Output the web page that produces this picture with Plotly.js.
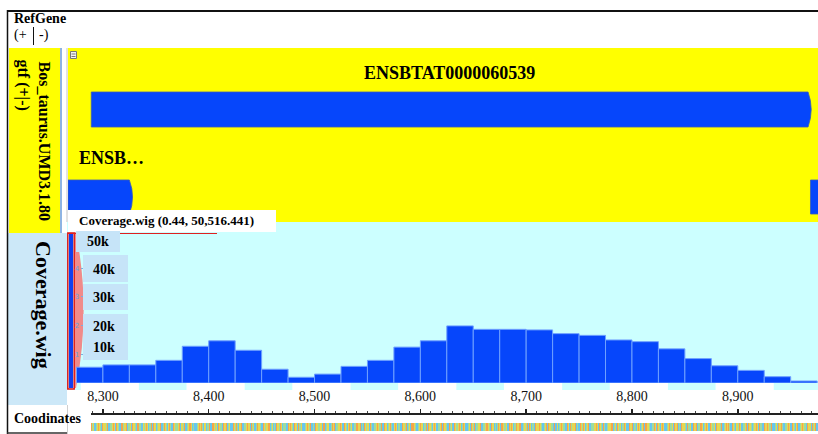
<!DOCTYPE html>
<html><head><meta charset="utf-8">
<script src="https://cdn.plot.ly/plotly-3.0.1.min.js"></script>
<style>html,body{margin:0;padding:0;background:#fff;overflow:hidden}#chart{width:818px;height:434px}</style>
</head><body><div id="chart"></div>
<script>
// ---------------- DATA ----------------
const binStarts = [8275,8300,8325,8350,8375,8400,8425,8450,8475,8500,8525,8550,8575,8600,8625,8650,8675,8700,8725,8750,8775,8800,8825,8850,8875,8900,8925,8950];
const binSize = 25;
const coverage = [5500,6300,6300,7900,12800,14700,11400,4800,2000,3100,5800,7900,12500,14700,19900,18700,18700,18500,17200,16600,15000,14400,11900,8500,6000,4400,2200,700];
const rulerTicks = [8300,8400,8500,8600,8700,8800,8900];
const rulerLabels = ['8,300','8,400','8,500','8,600','8,700','8,800','8,900'];
const yTickVals = [10000,20000,30000,40000];
const yTickText = ['1','2','3','4'];
const yScaleLabels = ['50k','40k','30k','20k','10k'];
const geneNames = ['ENSBTAT0000060539','ENSB\u2026',''];
const geneStarts = [8289, 8200, 8968.7];
const geneEnds = [8966.4, 8325, 9100];
const geneRows = [0, 1, 1];
const trackTitle = 'Coverage.wig (0.44, 50,516.441)';
const sequence = (
 'ATGCCTGAGT CAGGTACCTT GAGCAGTCCA TGGACTTGCA GGTCAATCCG ' +
 'TGAGCTTACA GGCTGACCTA GTCGATCCAG TTGACGGTAC CTGAAGCTCC ' +
 'TGAGATCGGC TTACCAGTGC AGTTCAGGAC TGCCAGTATC GGACCTTGAG ' +
 'CATGCCTAGG TCCAGTGAAC TGCTCAGGTA GCTTCCAGAG TCAGGCATTG ' +
 'CCTGAGTACC TCAGGTTGCA ACTGGCCTAG ACTTGAGCCA GTCGATGCCT ' +
 'TAGGACTCAG TGGCATCCTG AGTTACCAGG CTGATCGAGC TTCCAGGTAC ' +
 'TGCAAGTCCT GAGGCTTACA GTCGAGCCTT GACAGGTCAT GCCAGTTGAG ' +
 'CTAGCCTGCA GTACTTGGAC CTGAAGTCAG GCTCTAGCAG TTGCCAGAGC ' +
 'TTAGGACCTG GTACAGCTTC AGGAGTCCTG ACAGGTTCAC GCTGAGTTCC ' +
 'AGCATGGACT CCAGTAGCTG ACCTTGGAGC AGTCATCCTG GAACTGCAGT ' +
 'GCTTAGCCAG GACTTCGAGC TGACAGGTCC TTAGCAGTCG AGCCTGATTG ' +
 'CAGGACTCAG GTCATTGCCA GGACTTAGCT GAGCCAGTTG CAGGTACCTG ' +
 'AGATCCAGTC GTAGCCTTGA CAGGTCTGAG CATTCCAGGA GTTACCTGCA ' +
 'GGATCCTTGA GCAGTCGACC TGAGTTCAGG CATGACCTAG GTCAGCTTAC'
).replace(/\s/g,'');
const seqStart = 8289;

// ---------------- LAYOUT HELPERS ----------------
const PW = 818, PH = 434;
const px = v => v / PW;
const py = v => 1 - v / PH;
const SERIF = 'Liberation Serif, Times New Roman, serif';
const viewRange = [8267, 8975.8];
const rulerRange = [8288.74, 8975.8];
const BLUE = '#0646fb';

// ---------------- TRACES ----------------
const bars = {
  type: 'bar', xaxis: 'x', yaxis: 'y',
  x: binStarts.map(s => s + binSize / 2),
  y: coverage, width: binSize,
  marker: {color: BLUE, line: {color: '#6fa0ff', width: 1}},
  hoverinfo: 'skip'
};
const baseCode = {A: 0, C: 1, G: 2, T: 3};
const seqTrace = {
  type: 'heatmap', xaxis: 'x2', yaxis: 'y2',
  x: sequence.split('').map((b, i) => seqStart + i),
  y: [0],
  z: [sequence.split('').map(b => baseCode[b])],
  zmin: -0.5, zmax: 3.5, showscale: false, hoverinfo: 'skip',
  colorscale: [[0,'#f5a54a'],[0.25,'#f5a54a'],[0.25,'#66c6f0'],[0.5,'#66c6f0'],
               [0.5,'#e4d852'],[0.75,'#e4d852'],[0.75,'#9edc9e'],[1,'#9edc9e']]
};

// ---------------- SHAPES ----------------
const rect = (x0, y0, x1, y1, fill, layer, line) => ({
  type: 'rect', xref: 'paper', yref: 'paper', layer: layer || 'below',
  x0: px(x0), x1: px(x1), y0: py(y1), y1: py(y0),
  fillcolor: fill, line: line || {width: 0}
});
const pline = (x0, y0, x1, y1, color, w, layer) => ({
  type: 'line', xref: 'paper', yref: 'paper', layer: layer || 'below',
  x0: px(x0), x1: px(x1), y0: py(y0), y1: py(y1), line: {color: color, width: w}
});

const shapes = [];
// backgrounds
shapes.push(rect(9, 48, 60, 233, '#ffff00'));
shapes.push(pline(61, 48, 61, 233, '#8eb4e3', 2));
shapes.push(pline(67, 48, 67, 222, '#c4c4c4', 1));
shapes.push(rect(68, 48, 818, 222, '#ffff00'));
shapes.push(rect(8, 233, 67, 405, '#cce8f8'));
shapes.push(rect(67, 222, 818, 390, '#ccffff'));
// white label backings under ruler labels
rulerTicks.forEach(t => shapes.push({
  type: 'rect', xref: 'x', yref: 'paper', layer: 'below',
  x0: t - 21, x1: t + 34, y0: py(391), y1: py(383), fillcolor: '#ffffff', line: {width: 0}
}));
// left red summary strip (below axes so the small tick numbers sit on top)
shapes.push({type: 'path', xref: 'paper', yref: 'paper', layer: 'below',
  path: `M ${px(74.5)},${py(226)} Q ${px(92)},${py(305)} ${px(76)},${py(388)} L ${px(74.5)},${py(388)} Z`,
  fillcolor: '#f08a8a', line: {width: 0}});
shapes.push(rect(69, 233, 73, 388, '#1040f0'));
shapes.push(rect(67.8, 233, 74.2, 389, 'rgba(0,0,0,0)', 'below', {color: '#e01818', width: 1.5}));
// frame
shapes.push(pline(7, 11, 818, 11, '#111', 2));
shapes.push(pline(7.5, 10, 7.5, 434, '#111', 1.5));
shapes.push(pline(7, 433, 67, 433, '#333', 1.5));
shapes.push(pline(67.5, 405, 67.5, 434, '#cfcfcf', 1));
shapes.push(pline(33.5, 27, 33.5, 45, '#111', 1));

// genes
const rowBars = [[92, 127], [180, 214]];
geneNames.forEach((n, i) => {
  const [yt, yb] = rowBars[geneRows[i]];
  const x0 = Math.max(geneStarts[i], viewRange[0]);
  const x1 = Math.min(geneEnds[i], viewRange[1] + 5);
  const Y0 = py(yb), Y1 = py(yt), Ym = (Y0 + Y1) / 2;
  const tip = geneEnds[i] <= viewRange[1] ? 6 : 0;
  shapes.push({
    type: 'path', xref: 'x', yref: 'paper', layer: 'above',
    path: `M ${x0},${Y0} L ${x1},${Y0} Q ${x1 + tip},${Ym} ${x1},${Y1} L ${x0},${Y1} Z`,
    fillcolor: BLUE, line: {color: '#3a5cb8', width: 0.8}
  });
});
// collapse icon
shapes.push(rect(70.5, 51.5, 76.5, 58.5, '#f4f4f4', 'above', {color: '#777', width: 1}));
shapes.push(pline(71.5, 54, 75.5, 54, '#777', 1, 'above'));
shapes.push(pline(71.5, 56.5, 75.5, 56.5, '#777', 1, 'above'));
// title box
shapes.push(rect(68, 210, 276, 232, '#ffffff', 'above'));
shapes.push(pline(68, 233.5, 217, 233.5, '#e02020', 1, 'above'));
// y scale label boxes
const boxCol = '#c6e4f8';
shapes.push(rect(76, 231, 120, 252, boxCol, 'above'));
shapes.push(rect(83, 255, 128, 282, boxCol, 'above'));
shapes.push(rect(83, 284, 128, 310, boxCol, 'above'));
shapes.push(rect(83, 314, 128, 360, boxCol, 'above'));

// ---------------- ANNOTATIONS ----------------
const ann = (text, x, y, opts) => Object.assign({
  text: text, xref: 'paper', yref: 'paper', x: px(x), y: py(y),
  xanchor: 'left', yanchor: 'middle', showarrow: false,
  font: {family: SERIF, size: 13, color: '#000'}
}, opts || {});
const annotations = [
  ann('<b>RefGene</b>', 12, 18, {font: {family: SERIF, size: 14, color: '#000'}}),
  ann('(+', 12, 35, {font: {family: SERIF, size: 14, color: '#000'}}),
  ann('-)', 37, 35, {font: {family: SERIF, size: 14, color: '#000'}}),
  ann('<b>' + geneNames[0] + '</b>', 0, 73, {xref: 'x', x: (geneStarts[0] + geneEnds[0]) / 2, xanchor: 'center',
      font: {family: SERIF, size: 18, color: '#000'}}),
  ann('<b>' + geneNames[1] + '</b>', 77, 158, {font: {family: SERIF, size: 18, color: '#000'}}),
  ann('<b>Bos_taurus.UMD3.1.80</b>', 44.5, 141, {xanchor: 'center', textangle: 90,
      font: {family: SERIF, size: 16, color: '#000'}}),
  ann('<b>gtf (+|-)</b>', 22.5, 85, {xanchor: 'center', textangle: 90,
      font: {family: SERIF, size: 16, color: '#000'}}),
  ann('<b>Coverage.wig</b>', 44, 305, {xanchor: 'center', textangle: 90,
      font: {family: SERIF, size: 22, color: '#000'}}),
  ann('<b>' + trackTitle + '</b>', 77, 221, {font: {family: SERIF, size: 13, color: '#000'}}),
  ann('<b>' + yScaleLabels[0] + '</b>', 98, 241, {xanchor: 'center', font: {family: SERIF, size: 14, color: '#000'}}),
  ann('<b>' + yScaleLabels[1] + '</b>', 104, 269, {xanchor: 'center', font: {family: SERIF, size: 14, color: '#000'}}),
  ann('<b>' + yScaleLabels[2] + '</b>', 104, 297, {xanchor: 'center', font: {family: SERIF, size: 14, color: '#000'}}),
  ann('<b>' + yScaleLabels[3] + '</b>', 104, 326, {xanchor: 'center', font: {family: SERIF, size: 14, color: '#000'}}),
  ann('<b>' + yScaleLabels[4] + '</b>', 104, 347, {xanchor: 'center', font: {family: SERIF, size: 14, color: '#000'}}),
  ann('<b>Coodinates</b>', 12, 418, {font: {family: SERIF, size: 14, color: '#000'}})
];

// ---------------- LAYOUT ----------------
const layout = {
  width: PW, height: PH, margin: {l: 0, r: 0, t: 0, b: 0, pad: 0},
  paper_bgcolor: '#ffffff', plot_bgcolor: 'rgba(0,0,0,0)',
  showlegend: false, bargap: 0,
  xaxis: {domain: [px(68), 1], range: viewRange, visible: false, fixedrange: true},
  yaxis: {domain: [py(383), py(237)], range: [0, 50870], anchor: 'free', position: px(82.5),
          tickvals: yTickVals, ticktext: yTickText, ticks: 'outside', ticklen: 2, tickcolor: '#7aaee0',
          tickfont: {family: 'DejaVu Sans, sans-serif', size: 7, color: '#6a9fd8'},
          showline: false, showgrid: false, zeroline: false, fixedrange: true},
  xaxis2: {domain: [px(91), 1], range: rulerRange, anchor: 'free', position: py(413), side: 'top',
           showline: true, linecolor: '#222', linewidth: 1.5,
           tickvals: rulerTicks, ticktext: rulerLabels, ticks: 'outside', ticklen: 4, tickwidth: 1.5, tickcolor: '#222',
           tickfont: {family: SERIF, size: 14, color: '#111'}, ticklabelstandoff: 2,
           minor: {dtick: 10, tick0: 8300, ticks: 'outside', ticklen: 2, tickwidth: 1, tickcolor: '#444', showgrid: false},
           showgrid: false, zeroline: false, fixedrange: true},
  yaxis2: {domain: [py(431), py(423)], range: [-0.5, 0.5], anchor: 'x2', visible: false, fixedrange: true},
  shapes: shapes,
  annotations: annotations
};

Plotly.newPlot('chart', [bars, seqTrace], layout, {displayModeBar: false, staticPlot: true});
</script></body></html>
